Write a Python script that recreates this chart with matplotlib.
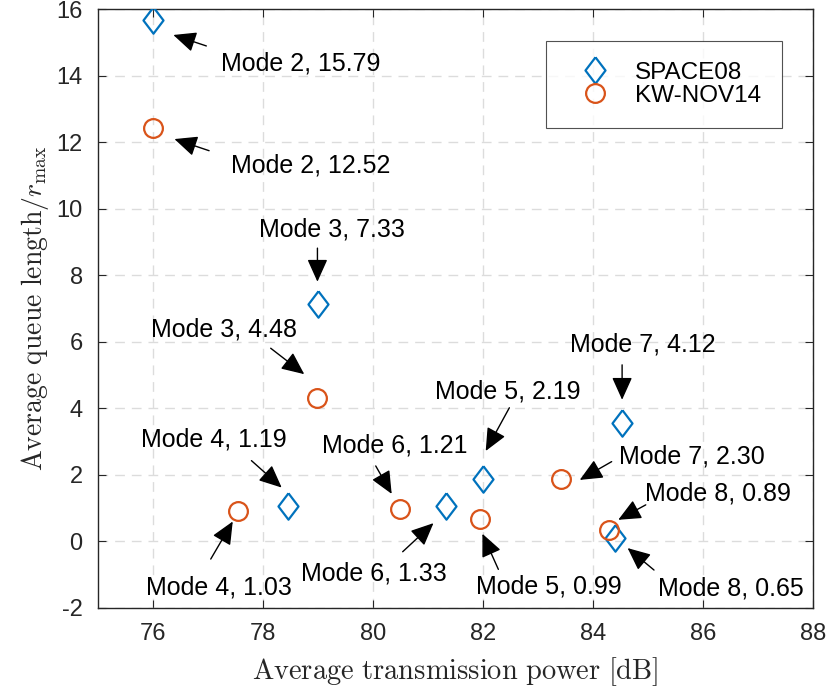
import matplotlib
matplotlib.use('Agg')
import matplotlib.pyplot as plt

plt.rcParams['font.family'] = ['Liberation Sans', 'DejaVu Sans']
plt.rcParams['mathtext.fontset'] = 'cm'
plt.rcParams['axes.unicode_minus'] = False

# data
space08_x = [76.0, 79.0, 78.45, 81.33, 82.0, 84.52, 84.4]
space08_y = [15.68, 7.15, 1.07, 1.07, 1.87, 3.55, 0.11]
kw_x = [76.0, 78.98, 77.55, 80.5, 81.95, 83.42, 84.3]
kw_y = [12.44, 4.3, 0.91, 0.98, 0.68, 1.87, 0.33]

labels = ['Mode 2, 15.79', 'Mode 2, 12.52', 'Mode 3, 7.33', 'Mode 3, 4.48',
          'Mode 4, 1.19', 'Mode 4, 1.03', 'Mode 6, 1.21', 'Mode 6, 1.33',
          'Mode 5, 2.19', 'Mode 7, 4.12', 'Mode 7, 2.30', 'Mode 8, 0.89',
          'Mode 8, 0.65', 'Mode 5, 0.99']

# annotation layout: text anchor (left, center), arrow tail, arrow tip
text_pos = [(77.23, 14.38), (77.41, 11.30), (77.93, 9.39), (75.97, 6.36),
            (75.79, 3.07), (75.88, -1.38), (79.07, 2.87), (78.70, -0.96),
            (81.12, 4.51), (83.58, 5.91), (84.47, 2.55), (84.95, 1.43),
            (85.18, -1.41), (81.87, -1.36)]
tails = [(76.97, 14.90), (77.02, 11.75), (78.99, 8.82), (78.14, 5.81),
         (77.79, 2.43), (77.05, -0.53), (80.05, 2.27), (80.54, -0.31),
         (82.48, 4.02), (84.53, 5.31), (84.34, 2.40), (84.96, 1.10),
         (85.11, -0.86), (82.28, -0.84)]
tips = [(76.37, 15.23), (76.39, 12.10), (78.99, 7.81), (78.75, 5.03),
        (78.34, 1.62), (77.45, 0.60), (80.34, 1.43), (81.10, 0.55),
        (82.05, 2.72), (84.53, 4.26), (83.76, 1.85), (84.46, 0.65),
        (84.63, -0.20), (81.99, 0.23)]

blue = '#0072BD'
orange = '#D95319'
diamond = [(0, 1), (0.76, 0), (0, -1), (-0.76, 0), (0, 1)]

fig = plt.figure(figsize=(8.27, 6.94), dpi=100)
ax = fig.add_axes([0.1185, 0.124, 0.8645, 0.8625])

ax.plot(space08_x, space08_y, linestyle='none', marker=diamond, markersize=19,
        markerfacecolor='none', markeredgecolor=blue, markeredgewidth=1.6,
        label='SPACE08', zorder=3)
ax.plot(kw_x, kw_y, linestyle='none', marker='o', markersize=13.5,
        markerfacecolor='none', markeredgecolor=orange, markeredgewidth=1.6,
        label='KW-NOV14', zorder=3)

for lab, tp, tl, tip in zip(labels, text_pos, tails, tips):
    ax.annotate('', xy=tip, xytext=tl,
                arrowprops=dict(arrowstyle='-|>,head_length=1.0,head_width=0.45',
                                color='black', lw=1.0, shrinkA=0, shrinkB=0,
                                mutation_scale=14))
    ax.text(tp[0], tp[1], lab, fontsize=18, ha='left', va='center', zorder=4)

ax.set_xlim(75, 88)
ax.set_ylim(-2, 16)
ax.set_xticks(range(76, 89, 2))
ax.set_yticks(range(-2, 17, 2))
ax.tick_params(direction='in', top=True, right=True, length=6, width=0.8,
               labelsize=17, colors='#262626', pad=11)
ax.grid(True, color='#dcdcdc', linestyle=(0, (7, 5)), linewidth=1.0)
ax.set_axisbelow(True)
for s in ax.spines.values():
    s.set_color('#262626')
    s.set_linewidth(1.0)

ax.set_xlabel(r'$\mathrm{Average\ transmission\ power\ [dB]}$', fontsize=20.5,
              color='#262626', labelpad=7)
ax.set_ylabel(r'$\mathrm{Average\ queue\ length}/r_{\max}$', fontsize=20,
              color='#262626', labelpad=4)

leg = ax.legend(loc='upper right', bbox_to_anchor=(0.9566, 0.947), fontsize=17.5,
                frameon=True, fancybox=False, edgecolor='#262626',
                borderaxespad=0, handlelength=2.3, handletextpad=0.5,
                borderpad=0.85, labelspacing=0.05)
leg.get_frame().set_linewidth(0.8)

fig.savefig('out.png', dpi=100)
